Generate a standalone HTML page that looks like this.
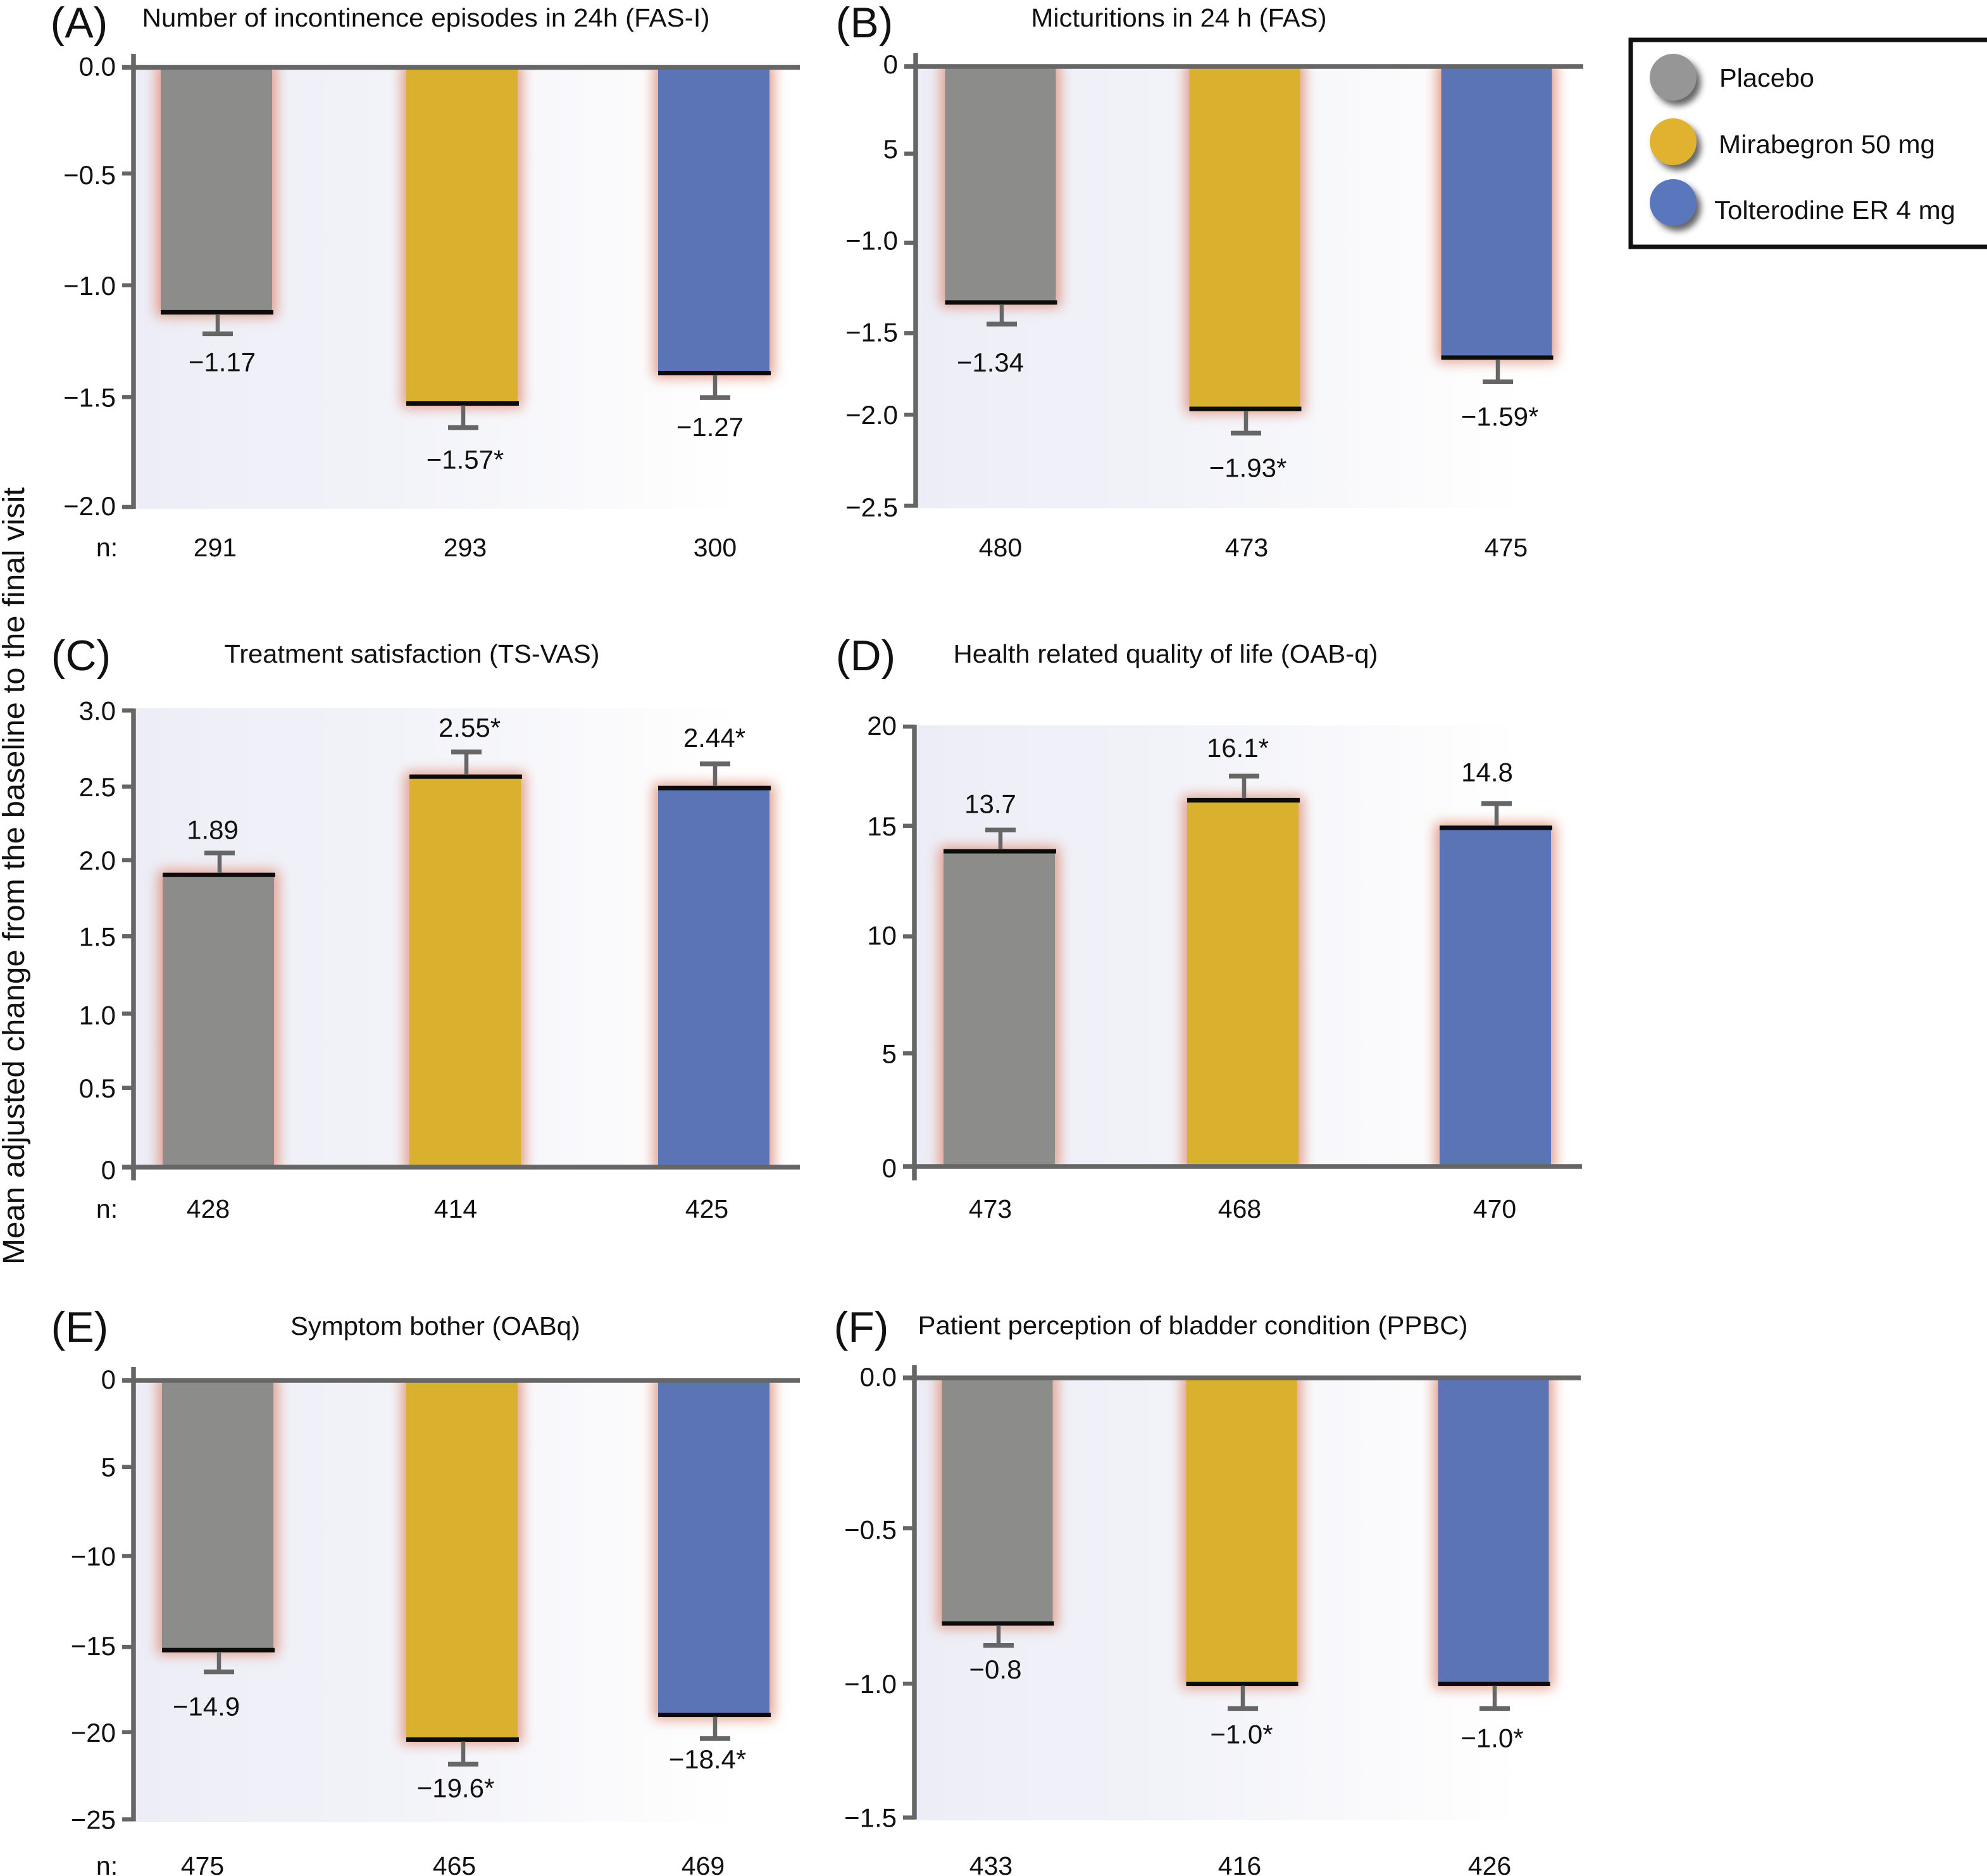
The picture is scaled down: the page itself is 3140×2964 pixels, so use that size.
<!DOCTYPE html>
<html lang="en">
<head>
<meta charset="utf-8">
<title>Mean adjusted change from baseline to final visit</title>
<style>
html,body{margin:0;padding:0;background:#fff;width:3140px;height:2964px;overflow:hidden}
svg{display:block;font-family:"Liberation Sans",Arial,sans-serif;fill:#111}
</style>
</head>
<body>
<svg id="figure" xmlns="http://www.w3.org/2000/svg" width="3140" height="2964" viewBox="0 0 3140 2964">
  <defs>
    <linearGradient id="plotBg" x1="0" y1="0" x2="1" y2="0">
      <stop offset="0" stop-color="#ecedf6"/>
      <stop offset="0.42" stop-color="#f2f3f9"/>
      <stop offset="0.75" stop-color="#fafafc"/>
      <stop offset="0.97" stop-color="#ffffff"/>
    </linearGradient>
    <filter id="haloBlur" x="-40%" y="-30%" width="180%" height="160%"><feGaussianBlur stdDeviation="10"/></filter>
    <filter id="shadowBlur" x="-40%" y="-40%" width="180%" height="180%"><feGaussianBlur stdDeviation="5"/></filter>
  </defs>
  <rect x="0" y="0" width="3140" height="2964" fill="#ffffff"/>
  <g id="panels"></g>
  <text x="38" y="1384" font-size="48" text-anchor="middle" textLength="1228" lengthAdjust="spacingAndGlyphs" transform="rotate(-90 38 1384)">Mean adjusted change from the baseline to the final visit</text>
  <g>
    <rect x="2577" y="63" width="580" height="327" fill="#ffffff" stroke="#111111" stroke-width="7"/>
    <ellipse cx="2651" cy="130" rx="37" ry="37" fill="#333333" opacity="0.75" filter="url(#shadowBlur)"/>
    <ellipse cx="2644" cy="122" rx="37" ry="37" fill="#969696"/>
    <text x="2717" y="137" font-size="41" textLength="150" lengthAdjust="spacingAndGlyphs">Placebo</text>
    <ellipse cx="2651" cy="232" rx="37" ry="37" fill="#333333" opacity="0.75" filter="url(#shadowBlur)"/>
    <ellipse cx="2644" cy="224" rx="37" ry="37" fill="#e0b22f"/>
    <text x="2716" y="242" font-size="41" textLength="342" lengthAdjust="spacingAndGlyphs">Mirabegron 50 mg</text>
    <ellipse cx="2651" cy="328" rx="37" ry="37" fill="#333333" opacity="0.75" filter="url(#shadowBlur)"/>
    <ellipse cx="2644" cy="320" rx="37" ry="37" fill="#5a76bd"/>
    <text x="2709" y="346" font-size="41" textLength="381" lengthAdjust="spacingAndGlyphs">Tolterodine ER 4 mg</text>
  </g>
</svg>
<script>
const categories = ['placebo', 'mirabegron', 'tolterodine'];
const seriesColors = ['#8c8c8a', '#dab12f', '#5a74b6'];

const panelATicks = [0, -0.5, -1, -1.5, -2];
const panelATickLabels = ['0.0', '\u22120.5', '\u22121.0', '\u22121.5', '\u22122.0'];
const panelAValues = [-1.114, -1.529, -1.391];
const panelAErrorEnds = [-1.212, -1.639, -1.502];
const panelAValueLabels = ['\u22121.17', '\u22121.57*', '\u22121.27'];
const panelACounts = ['291', '293', '300'];

const panelBTicks = [0, -0.5, -1, -1.5, -2, -2.5];
const panelBTickLabels = ['0', '5', '\u22121.0', '\u22121.5', '\u22122.0', '\u22122.5'];
const panelBValues = [-1.343, -1.949, -1.657];
const panelBErrorEnds = [-1.466, -2.087, -1.795];
const panelBValueLabels = ['\u22121.34', '\u22121.93*', '\u22121.59*'];
const panelBCounts = ['480', '473', '475'];

const panelCTicks = [0, 0.5, 1, 1.5, 2, 2.5, 3];
const panelCTickLabels = ['0', '0.5', '1.0', '1.5', '2.0', '2.5', '3.0'];
const panelCValues = [1.92, 2.565, 2.49];
const panelCErrorEnds = [2.064, 2.727, 2.649];
const panelCValueLabels = ['1.89', '2.55*', '2.44*'];
const panelCCounts = ['428', '414', '425'];

const panelDTicks = [0, 5, 10, 15, 20];
const panelDTickLabels = ['0', '5', '10', '15', '20'];
const panelDValues = [14.33, 16.65, 15.4];
const panelDErrorEnds = [15.3, 17.75, 16.5];
const panelDValueLabels = ['13.7', '16.1*', '14.8'];
const panelDCounts = ['473', '468', '470'];

const panelETicks = [0, -5, -10, -15, -20, -25];
const panelETickLabels = ['0', '5', '\u221210', '\u221215', '\u221220', '\u221225'];
const panelEValues = [-15.36, -20.46, -19.05];
const panelEErrorEnds = [-16.6, -21.86, -20.4];
const panelEValueLabels = ['\u221214.9', '\u221219.6*', '\u221218.4*'];
const panelECounts = ['475', '465', '469'];

const panelFTicks = [0, -0.5, -1, -1.5];
const panelFTickLabels = ['0.0', '\u22120.5', '\u22121.0', '\u22121.5'];
const panelFValues = [-0.838, -1.044, -1.044];
const panelFErrorEnds = [-0.913, -1.128, -1.128];
const panelFValueLabels = ['\u22120.8', '\u22121.0*', '\u22121.0*'];
const panelFCounts = ['433', '416', '426'];

/* Panel frames and text nudges: layout only, separate from the data above. */
const frames = [
  {id:'a', letter:'(A)', title:'Number of incontinence episodes in 24h (FAS-I)', ticks:panelATicks, tickLabels:panelATickLabels, values:panelAValues, errors:panelAErrorEnds, valueLabels:panelAValueLabels, counts:panelACounts,
   axisX:211, right:1264, bgRight:1202, bgEdge:804, axisEnd:88, firstY:106.5, lastY:801, x0:342, gap1:388, gap2:398, barW:176,
   letterX:125, letterY:35, titleX:673, titleY:28, titleW:897, countY:864, nLabel:true,
   tickNudge:[0,-6,-3,0,0], tickTextDy:[-2,2,0,0,-2], labelDx:[9,5,-6], labelDy:[44,50,46], countDx:[-2,5,2]},
  {id:'b', letter:'(B)', title:'Micturitions in 24 h (FAS)', ticks:panelBTicks, tickLabels:panelBTickLabels, values:panelBValues, errors:panelBErrorEnds, valueLabels:panelBValueLabels, counts:panelBCounts,
   axisX:1447, right:2502, bgRight:2439, bgEdge:803, axisEnd:87, firstY:105, lastY:799, x0:1581, gap1:386, gap2:398, barW:175,
   letterX:1366, letterY:35, titleX:1863, titleY:28, titleW:467, countY:864, nLabel:false,
   tickNudge:[0,-1,1,5,-5,0], tickTextDy:[-4,-8,-4,-2,0,2], labelDx:[-16,5,5], labelDy:[60,54,54], countDx:[0,3,15]},
  {id:'c', letter:'(C)', title:'Treatment satisfaction (TS-VAS)', ticks:panelCTicks, tickLabels:panelCTickLabels, values:panelCValues, errors:panelCErrorEnds, valueLabels:panelCValueLabels, counts:panelCCounts,
   axisX:211, right:1264, bgRight:1202, bgEdge:1119, axisEnd:1862, firstY:1844, lastY:1122.5, x0:345, gap1:390, gap2:393, barW:176,
   letterX:128, letterY:1035, titleX:651, titleY:1033, titleW:593, countY:1909, nLabel:true,
   tickNudge:[0,-5,-2,-4,-4,0,0], tickTextDy:[4,0,2,0,0,0,0], labelDx:[-9,7,1], labelDy:[-37,-39,-42], countDx:[-16,-15,-11]},
  {id:'d', letter:'(D)', title:'Health related quality of life (OAB-q)', ticks:panelDTicks, tickLabels:panelDTickLabels, values:panelDValues, errors:panelDErrorEnds, valueLabels:panelDValueLabels, counts:panelDCounts,
   axisX:1445, right:2500, bgRight:2435, bgEdge:1146, axisEnd:1862, firstY:1843, lastY:1148, x0:1579, gap1:385, gap2:399, barW:176,
   letterX:1368, letterY:1035, titleX:1842, titleY:1033, titleW:671, countY:1909, nLabel:false,
   tickNudge:[0,-5,-16,-17,0], tickTextDy:[2,0,-2,0,-2], labelDx:[-14,-8,-13], labelDy:[-42,-45,-50], countDx:[-14,-5,-1]},
  {id:'e', letter:'(E)', title:'Symptom bother (OABq)', ticks:panelETicks, tickLabels:panelETickLabels, values:panelEValues, errors:panelEErrorEnds, valueLabels:panelEValueLabels, counts:panelECounts,
   axisX:211, right:1264, bgRight:1202, bgEdge:2879, axisEnd:2163, firstY:2181, lastY:2874.5, x0:344, gap1:386, gap2:398, barW:176,
   letterX:126, letterY:2096, titleX:688, titleY:2095, titleW:458, countY:2947, nLabel:true,
   tickNudge:[0,-2,0,5,1,0], tickTextDy:[-2,0,0,-2,0,0], labelDx:[-18,-10,-10], labelDy:[54,37,32], countDx:[-24,-12,-17]},
  {id:'f', letter:'(F)', title:'Patient perception of bladder condition (PPBC)', ticks:panelFTicks, tickLabels:panelFTickLabels, values:panelFValues, errors:panelFErrorEnds, valueLabels:panelFValueLabels, counts:panelFCounts,
   axisX:1445, right:2498, bgRight:2435, bgEdge:2876, axisEnd:2160, firstY:2177, lastY:2871.6, x0:1576, gap1:386, gap2:398, barW:175,
   letterX:1361, letterY:2096, titleX:1885, titleY:2094, titleW:869, countY:2947, nLabel:false,
   tickNudge:[0,6,20,0], tickTextDy:[-2,2,0,0], labelDx:[-3,0,-2], labelDy:[37,40,46], countDx:[-10,-3,-6]}
];

const SVG_NS = 'http://www.w3.org/2000/svg';
const AXIS_COLOR = '#666666';
const HALO_COLOR = '#e29c89';
const TEXT_COLOR = '#111111';

function make(parent, tag, attrs, text) {
  const node = document.createElementNS(SVG_NS, tag);
  for (const key in attrs) node.setAttribute(key, attrs[key]);
  if (text !== undefined) node.textContent = text;
  parent.appendChild(node);
  return node;
}

function yScale(frame) {
  const first = frame.ticks[0];
  const last = frame.ticks[frame.ticks.length - 1];
  return function (v) {
    return frame.firstY + (v - first) / (last - first) * (frame.lastY - frame.firstY);
  };
}

function xScale(frame) {
  return function (i) {
    return frame.x0 + (i > 0 ? frame.gap1 : 0) + (i > 1 ? frame.gap2 : 0);
  };
}

function drawPanel(frame) {
  const root = document.getElementById('panels');
  const g = make(root, 'g', {});
  
  

  const y = yScale(frame);
  const x = xScale(frame);
  const zeroY = y(0);
  const bgTop = Math.min(zeroY, frame.bgEdge);
  const bgHeight = Math.abs(frame.bgEdge - zeroY);

  const bg = make(g, 'rect', {x: frame.axisX, y: bgTop, width: frame.bgRight - frame.axisX, height: bgHeight, fill: 'url(#plotBg)'});
  
  

  const clip = make(g, 'clipPath', {id: 'clip-' + frame.id});
  make(clip, 'rect', {x: frame.axisX, y: bgTop, width: frame.right - frame.axisX, height: bgHeight + 60});
  if (frame.bgEdge < zeroY) {
    clip.firstChild.setAttribute('y', bgTop - 60);
  }

  const halos = make(g, 'g', {'clip-path': 'url(#clip-' + frame.id + ')'});
  
  

  categories.forEach(function (cat, i) {
    const cx = x(i);
    const endY = y(frame.values[i]);
    const capY = y(frame.errors[i]);
    const left = cx - frame.barW / 2;
    const top = Math.min(zeroY, endY);
    const h = Math.abs(endY - zeroY);

    const halo = make(halos, 'rect', {x: left - 7, y: top - 7, width: frame.barW + 14, height: h + 14, fill: HALO_COLOR, filter: 'url(#haloBlur)'});
    
    

    const bar = make(g, 'rect', {x: left, y: top, width: frame.barW, height: h, fill: seriesColors[i]});
    
    

    const endLine = make(g, 'line', {x1: left, x2: left + frame.barW + 2, y1: endY, y2: endY, stroke: '#0c0c0c', 'stroke-width': 7});
    
    

    const stem = make(g, 'line', {x1: cx + 2, x2: cx + 2, y1: endY + (capY > endY ? 3 : -3), y2: capY, stroke: AXIS_COLOR, 'stroke-width': 6.5});
    
    

    const cap = make(g, 'line', {x1: cx + 2 - 24, x2: cx + 2 + 24, y1: capY, y2: capY, stroke: AXIS_COLOR, 'stroke-width': 7.5});
    
    

    const valueText = make(g, 'text', {x: cx + frame.labelDx[i], y: capY + frame.labelDy[i] + 15, 'font-size': 42, 'text-anchor': 'middle', fill: TEXT_COLOR}, frame.valueLabels[i]);
    
    

    const countText = make(g, 'text', {x: cx + frame.countDx[i], y: frame.countY + 15, 'font-size': 41, 'text-anchor': 'middle', fill: TEXT_COLOR}, frame.counts[i]);
    
    
  });

  const yAxis = make(g, 'line', {x1: frame.axisX, x2: frame.axisX, y1: Math.min(frame.axisEnd, y(frame.ticks[frame.ticks.length - 1])) - 3, y2: Math.max(frame.axisEnd, y(frame.ticks[frame.ticks.length - 1])) + 3, stroke: AXIS_COLOR, 'stroke-width': 7.5});
  
  

  const xAxis = make(g, 'line', {x1: frame.axisX - 18, x2: frame.right, y1: zeroY, y2: zeroY, stroke: AXIS_COLOR, 'stroke-width': 7.5});
  
  

  frame.ticks.forEach(function (t, i) {
    const ty = y(t) + frame.tickNudge[i];
    const tick = make(g, 'line', {x1: frame.axisX - 18, x2: frame.axisX, y1: ty, y2: ty, stroke: AXIS_COLOR, 'stroke-width': 6.5});
    
    

    const label = make(g, 'text', {x: frame.axisX - 28, y: y(t) + frame.tickNudge[i] + frame.tickTextDy[i] + 15, 'font-size': 42, 'text-anchor': 'end', fill: TEXT_COLOR}, frame.tickLabels[i]);
    
    
  });

  const letter = make(g, 'text', {x: frame.letterX, y: frame.letterY + 24, 'font-size': 68, 'text-anchor': 'middle', fill: TEXT_COLOR}, frame.letter);
  
  

  const title = make(g, 'text', {x: frame.titleX, y: frame.titleY + 14, 'font-size': 41, 'text-anchor': 'middle', textLength: frame.titleW, lengthAdjust: 'spacingAndGlyphs', fill: TEXT_COLOR}, frame.title);
  
  

  if (frame.nLabel) {
    const nText = make(g, 'text', {x: 169, y: frame.countY + 15, 'font-size': 41, 'text-anchor': 'middle', fill: TEXT_COLOR}, 'n:');
    
    
  }
}

frames.forEach(drawPanel);
</script>
</body>
</html>
